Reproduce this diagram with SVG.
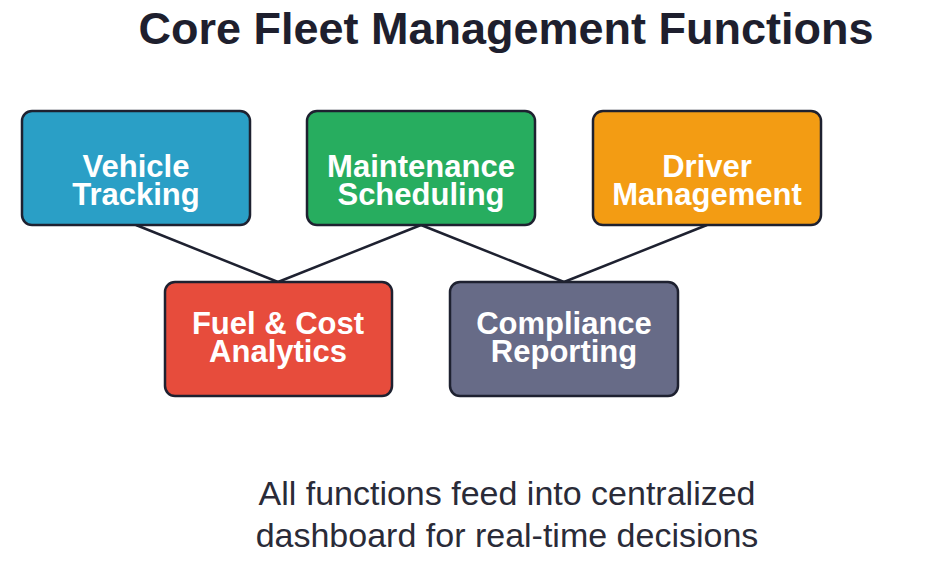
<svg xmlns="http://www.w3.org/2000/svg" width="933" height="569" viewBox="0 0 933 569">
<style>
.box{stroke:#1e2130;stroke-width:2.5}
.lbl{font-family:"Liberation Sans",Arial,sans-serif;font-weight:bold;font-size:31px;fill:#ffffff;text-anchor:middle}
.conn line{stroke:#1e2130;stroke-width:2.5}
.title{font-family:"Liberation Sans",Arial,sans-serif;font-weight:bold;font-size:45px;fill:#1e1f2e;text-anchor:middle}
.note{font-family:"Liberation Sans",Arial,sans-serif;font-size:34px;fill:#2a2b38;text-anchor:middle}
</style>
<rect width="933" height="569" fill="#ffffff"/>
<text class="title" x="506" y="44">Core Fleet Management Functions</text>
<g class="conn" id="connectors">
<line x1="136" y1="225" x2="278" y2="282"/>
<line x1="421" y1="225" x2="278" y2="282"/>
<line x1="421" y1="225" x2="564" y2="282"/>
<line x1="707" y1="225" x2="564" y2="282"/>
</g>
<g id="vehicle-tracking">
<rect class="box" x="22" y="111" width="228" height="114" rx="10" fill="#2a9fc6"/>
<text class="lbl" x="136" y="177">Vehicle</text>
<text class="lbl" x="136" y="205">Tracking</text>
</g>
<g id="maintenance-scheduling">
<rect class="box" x="307" y="111" width="228" height="114" rx="10" fill="#27ad5f"/>
<text class="lbl" x="421" y="177">Maintenance</text>
<text class="lbl" x="421" y="205">Scheduling</text>
</g>
<g id="driver-management">
<rect class="box" x="593" y="111" width="228" height="114" rx="10" fill="#f39c13"/>
<text class="lbl" x="707" y="177">Driver</text>
<text class="lbl" x="707" y="205">Management</text>
</g>
<g id="fuel-cost-analytics">
<rect class="box" x="165" y="282" width="227" height="114" rx="10" fill="#e74c3c"/>
<text class="lbl" x="278" y="334">Fuel &amp; Cost</text>
<text class="lbl" x="278" y="362">Analytics</text>
</g>
<g id="compliance-reporting">
<rect class="box" x="450" y="282" width="228" height="114" rx="10" fill="#676b87"/>
<text class="lbl" x="564" y="334">Compliance</text>
<text class="lbl" x="564" y="362">Reporting</text>
</g>
<text class="note" x="507" y="505">All functions feed into centralized</text>
<text class="note" x="507" y="547">dashboard for real-time decisions</text>
</svg>
